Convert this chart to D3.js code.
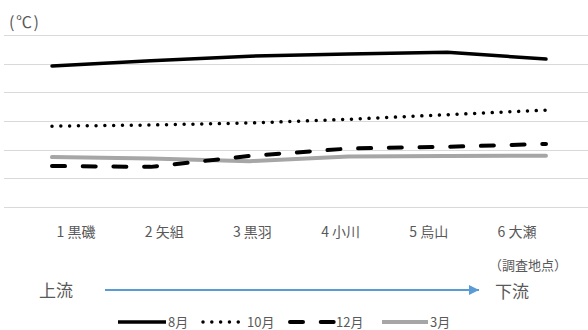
<!DOCTYPE html>
<html lang="ja">
<head>
<meta charset="utf-8">
<style>
  body { margin: 0; background: #fff; }
  svg { display: block; font-family: "Noto Sans CJK JP", "Noto Sans", sans-serif; }
  .lbl { fill: #595959; }
</style>
</head>
<body>
<script src="https://d3js.org/d3.v7.min.js"></script>
<script>
// data
const sites = ["1 黒磯", "2 矢組", "3 黒羽", "4 小川", "5 烏山", "6 大瀬"];
const aug = [24.6, 25.5, 26.3, 26.7, 27.0, 25.8];
const oct = [14.1, 14.3, 14.65, 15.3, 16.1, 16.9];
const dec = [7.15, 7.0, 8.9, 10.2, 10.5, 11.0];
const mar = [8.7, 8.45, 8.0, 8.8, 8.9, 8.95];
const yTicks = [0, 5, 10, 15, 20, 25, 30];
const months = ["8月", "10月", "12月", "3月"];

const W = 588, H = 330;
const svg = d3.select("body").append("svg").attr("width", W).attr("height", H);

const x = d3.scalePoint().domain(sites).range([52, 546]);
const xLabel = d3.scalePoint().domain(sites).range([76, 517]);
const y = d3.scaleLinear().domain([0, 30]).range([207, 35]);

// gridlines
svg.append("g").selectAll("line")
  .data(yTicks)
  .join("line")
  .attr("x1", 4).attr("x2", 588)
  .attr("y1", d => Math.round(y(d)) + 0.5)
  .attr("y2", d => Math.round(y(d)) + 0.5)
  .attr("stroke", "#d9d9d9")
  .attr("stroke-width", 1);

// unit
svg.append("text").attr("class", "lbl")
  .attr("x", 9).attr("y", 28)
  .attr("font-size", 16)
  .attr("letter-spacing", 1.5)
  .text("(℃)");

// series styles
const styles = [
  { vals: aug, color: "#000", width: 3.5, dash: null },
  { vals: oct, color: "#000", width: 3.5, dash: "0.01 8.8" },
  { vals: dec, color: "#000", width: 4, dash: "13 17.7" },
  { vals: mar, color: "#a6a6a6", width: 4, dash: null }
];

const line = d3.line()
  .x((d, i) => x(sites[i]))
  .y(d => y(d));

// grey first so the dashed line sits on top
[3, 0, 1, 2].forEach(k => {
  const s = styles[k];
  svg.append("path")
    .datum(s.vals)
    .attr("d", line)
    .attr("fill", "none")
    .attr("stroke", s.color)
    .attr("stroke-width", s.width)
    .attr("stroke-linecap", "round")
    .attr("stroke-linejoin", "round")
    .attr("stroke-dasharray", s.dash);
});

// category labels
svg.append("g").selectAll("text")
  .data(sites)
  .join("text")
  .attr("class", "lbl")
  .attr("x", d => xLabel(d))
  .attr("y", 237)
  .attr("text-anchor", "middle")
  .attr("font-size", 14)
  .text(d => d);

svg.append("text").attr("class", "lbl")
  .attr("x", 528).attr("y", 270)
  .attr("text-anchor", "middle")
  .attr("font-size", 13)
  .text("（調査地点）");

// flow arrow
svg.append("defs").append("marker")
  .attr("id", "arr")
  .attr("viewBox", "0 0 10 10")
  .attr("refX", 10).attr("refY", 5)
  .attr("markerWidth", 5).attr("markerHeight", 5)
  .attr("markerUnits", "strokeWidth")
  .attr("orient", "auto")
  .append("path")
  .attr("d", "M0,0L10,5L0,10Z")
  .attr("fill", "#5b9bd5");

svg.append("line")
  .attr("x1", 105).attr("x2", 479)
  .attr("y1", 290).attr("y2", 290)
  .attr("stroke", "#5b9bd5")
  .attr("stroke-width", 2)
  .attr("marker-end", "url(#arr)");

svg.append("text").attr("class", "lbl")
  .attr("x", 39).attr("y", 297)
  .attr("font-size", 17)
  .text("上流");
svg.append("text").attr("class", "lbl")
  .attr("x", 495).attr("y", 298)
  .attr("font-size", 17)
  .text("下流");

// legend
const legX = [118, 201, 290, 382];
const legLen = [50, 46, 46, 48];
const leg = svg.append("g");
[0, 1, 2, 3].forEach(k => {
  const s = styles[k];
  leg.append("line")
    .attr("x1", legX[k] + (k === 1 ? 2 : 0)).attr("x2", legX[k] + legLen[k] - 2)
    .attr("y1", 322).attr("y2", 322)
    .attr("stroke", s.color)
    .attr("stroke-width", s.width)
    .attr("stroke-linecap", k === 0 || k === 3 ? "butt" : "round")
    .attr("stroke-dasharray", s.dash);
  leg.append("text").attr("class", "lbl")
    .attr("x", legX[k] + legLen[k])
    .attr("y", 327)
    .attr("font-size", 13)
    .text(months[k]);
});
</script>
</body>
</html>
